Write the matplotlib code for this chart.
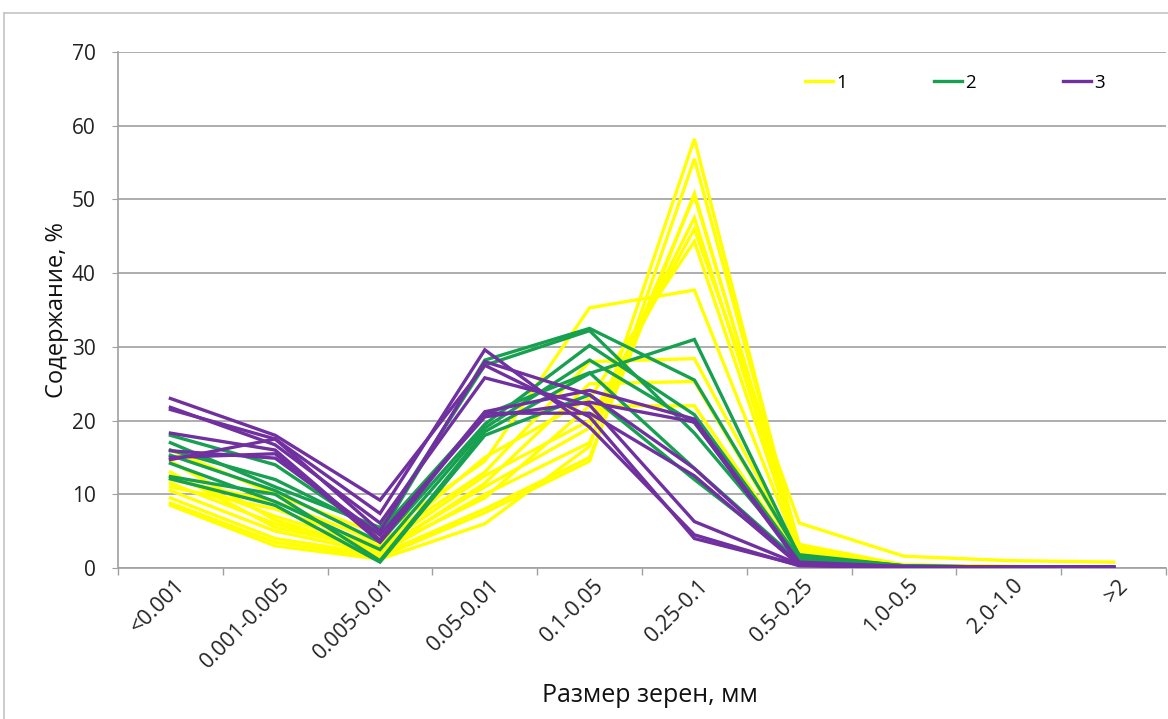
import matplotlib
matplotlib.use("Agg")
import matplotlib.pyplot as plt
from matplotlib.lines import Line2D
import matplotlib.transforms as mtransforms

plt.rcParams['font.family'] = ['Open Sans', 'DejaVu Sans']

categories = ['<0.001', '0.001-0.005', '0.005-0.01', '0.05-0.01', '0.1-0.05',
              '0.25-0.1', '0.5-0.25', '1.0-0.5', '2.0-1.0', '>2']

# group 1 samples (yellow)
group1 = [
    [8.5, 3.0, 1.2, 6.0, 16.5, 58.2, 2.6, 0.4, 0.2, 0.1],
    [8.8, 3.5, 1.5, 7.5, 14.5, 55.5, 3.0, 0.4, 0.2, 0.1],
    [9.5, 4.0, 1.8, 8.0, 15.0, 50.8, 2.8, 0.3, 0.1, 0.1],
    [10.5, 5.0, 2.0, 10.0, 17.0, 50.5, 3.2, 0.4, 0.2, 0.1],
    [11.5, 6.0, 2.5, 11.0, 19.0, 47.5, 2.5, 0.3, 0.2, 0.1],
    [12.5, 7.0, 2.8, 12.5, 20.0, 46.0, 6.1, 1.6, 1.0, 0.8],
    [11.0, 8.0, 3.0, 15.0, 23.0, 44.3, 2.2, 0.3, 0.1, 0.1],
    [16.0, 10.0, 4.5, 14.5, 35.3, 37.7, 2.0, 0.3, 0.1, 0.1],
    [12.0, 9.0, 3.5, 13.0, 28.0, 28.4, 1.8, 0.2, 0.1, 0.1],
    [14.5, 6.5, 2.2, 11.5, 25.0, 25.3, 1.5, 0.2, 0.1, 0.1],
    [13.0, 5.5, 2.5, 9.5, 22.0, 22.0, 1.2, 0.2, 0.1, 0.1],
]

# group 2 samples (green)
group2 = [
    [18.0, 14.0, 4.5, 28.2, 32.5, 25.5, 1.8, 0.3, 0.1, 0.1],
    [17.0, 11.0, 5.5, 27.5, 32.2, 18.3, 1.5, 0.3, 0.1, 0.1],
    [15.3, 10.5, 3.5, 19.5, 30.2, 20.8, 1.3, 0.2, 0.1, 0.1],
    [14.2, 9.0, 2.5, 19.0, 28.2, 19.7, 1.2, 0.2, 0.1, 0.1],
    [12.4, 10.0, 1.0, 18.5, 26.4, 31.0, 1.6, 0.3, 0.1, 0.1],
    [12.1, 8.5, 0.8, 18.0, 23.5, 12.0, 1.0, 0.2, 0.1, 0.1],
    [16.0, 12.0, 5.0, 20.8, 26.5, 13.5, 0.9, 0.2, 0.1, 0.1],
]

# group 3 samples (purple)
group3 = [
    [23.0, 18.0, 9.2, 27.5, 20.5, 4.0, 0.4, 0.1, 0.1, 0.1],
    [21.5, 17.5, 7.4, 29.6, 19.1, 4.5, 0.3, 0.1, 0.1, 0.1],
    [21.8, 16.7, 6.1, 25.8, 22.1, 6.3, 0.5, 0.1, 0.1, 0.1],
    [18.3, 16.0, 3.8, 21.2, 24.1, 20.2, 0.8, 0.2, 0.1, 0.1],
    [15.9, 14.9, 4.5, 20.5, 22.5, 19.8, 0.6, 0.2, 0.1, 0.1],
    [14.7, 17.5, 5.0, 28.0, 23.5, 13.5, 0.5, 0.1, 0.1, 0.1],
    [15.0, 15.5, 3.5, 21.0, 21.0, 12.5, 0.4, 0.1, 0.1, 0.1],
]

group_labels = ['1', '2', '3']
group_colors = ['#FFFF00', '#17A050', '#7030A0']
groups = [group1, group2, group3]

W, H = 1168, 719
fig = plt.figure(figsize=(W / 100, H / 100), dpi=100)
fig.patch.set_facecolor('white')

ax = fig.add_axes([118 / W, 1 - 568 / H, (1166 - 118) / W, (568 - 52) / H])

x = [i + 0.5 for i in range(len(categories))]
for data, color in zip(groups, group_colors):
    for series in data:
        ax.plot(x, series, color=color, lw=2.4, solid_joinstyle='miter', zorder=3)

ax.set_xlim(0, len(categories))
ax.set_ylim(0, 70)
ax.set_yticks(range(0, 71, 10))
ax.grid(axis='y', color='#a0a0a0', lw=1.2, zorder=0)
ax.set_axisbelow(True)

ax.set_xticks(range(0, len(categories) + 1))
ax.set_xticklabels([])
ax.set_xticks(x, minor=True)
ax.set_xticklabels(categories, minor=True, rotation=45, ha='right',
                   rotation_mode='anchor', fontsize=15.5, color='#222222')
ax.tick_params(axis='x', which='minor', length=0, pad=5)
ax.tick_params(axis='x', which='major', length=5, color='#a0a0a0', width=1)
ax.tick_params(axis='y', length=4, pad=12, color='#a0a0a0', labelsize=15,
               labelcolor='#222222')

offset = mtransforms.ScaledTranslation(4 / 100, 0, fig.dpi_scale_trans)
for lbl in ax.get_xticklabels(minor=True):
    lbl.set_transform(lbl.get_transform() + offset)

for side in ('top', 'right'):
    ax.spines[side].set_visible(False)
for side in ('left', 'bottom'):
    ax.spines[side].set_color('#a0a0a0')
    ax.spines[side].set_linewidth(1.2)

ax.set_ylabel('Содержание, %', fontsize=17, color='#111111')
ax.yaxis.set_label_coords((69 - 118) / (1166 - 118), 0.5)
fig.text(650 / W, 1 - 695 / H, 'Размер зерен, мм', fontsize=18,
         color='#111111', ha='center', va='center')

handles = [Line2D([], [], color=c, lw=2.4) for c in group_colors]
fig.legend(handles, group_labels, loc='center left',
           bbox_to_anchor=(788 / W, 1 - 83 / H), ncol=3, frameon=False,
           fontsize=13.5, handlelength=1.5, handletextpad=0.2, columnspacing=4.6)

# outer frame
fig.add_artist(Line2D([4 / W, 1], [1 - 13 / H, 1 - 13 / H], color='#c4c4c4', lw=1.2,
                      transform=fig.transFigure))
fig.add_artist(Line2D([4 / W, 4 / W], [0, 1 - 13 / H], color='#c4c4c4', lw=1.2,
                      transform=fig.transFigure))

fig.savefig('out.png', dpi=100)
